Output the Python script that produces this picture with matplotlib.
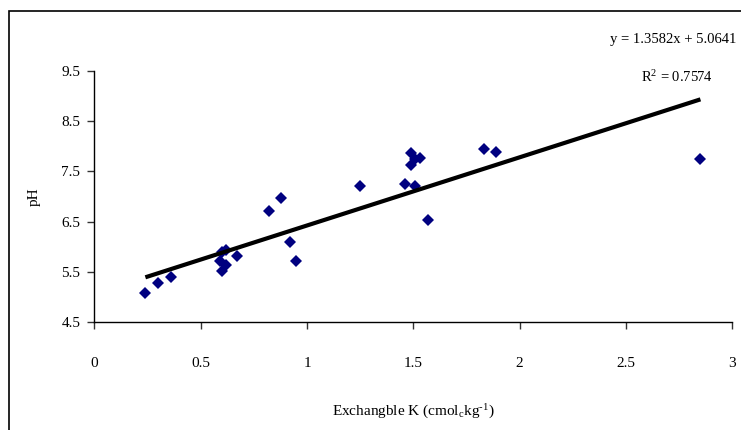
import matplotlib
matplotlib.use('Agg')
import matplotlib.pyplot as plt
import matplotlib.patches as patches
import numpy as np

plt.rcParams['font.family'] = 'Liberation Serif'
plt.rcParams['mathtext.fontset'] = 'custom'
plt.rcParams['mathtext.rm'] = 'Liberation Serif'
plt.rcParams['mathtext.it'] = 'Liberation Serif'

# exchangeable K vs pH
exch_k = [0.24, 0.30, 0.36, 0.60, 0.62, 0.59, 0.60, 0.62, 0.67, 0.82, 0.88, 0.92,
          0.95, 1.25, 1.46, 1.51, 1.57, 1.49, 1.51, 1.53, 1.49, 1.83, 1.89, 2.85]
ph = [5.08, 5.27, 5.40, 5.52, 5.64, 5.72, 5.90, 5.93, 5.81, 6.72, 6.96, 6.10,
      5.71, 7.20, 7.24, 7.20, 6.53, 7.87, 7.74, 7.76, 7.63, 7.94, 7.89, 7.75]

SLOPE = 1.3582
INTERCEPT = 5.0641
R2 = 0.7574

x_ticks = [0, 0.5, 1, 1.5, 2, 2.5, 3]
x_tick_labels = ['0', '0.5', '1', '1.5', '2', '2.5', '3']
y_ticks = [4.5, 5.5, 6.5, 7.5, 8.5, 9.5]

fig = plt.figure(figsize=(7.41, 4.30), dpi=100)
ax = fig.add_axes([0.1273, 0.2512, 0.861, 0.5837])

ax.plot(exch_k, ph, linestyle='none', marker='D', markersize=6.5,
        color='#000080', markeredgewidth=0)

x_fit = np.array([min(exch_k), max(exch_k)])
ax.plot(x_fit, SLOPE * x_fit + INTERCEPT, color='black', linewidth=3,
        solid_capstyle='butt')

ax.set_xlim(0, 3)
ax.set_ylim(4.5, 9.5)
ax.set_xticks(x_ticks)
ax.set_xticklabels(x_tick_labels)
ax.set_yticks(y_ticks)
ax.set_yticklabels([f'{v:.1f}' for v in y_ticks])

for side in ['top', 'right']:
    ax.spines[side].set_visible(False)
for side in ['left', 'bottom']:
    ax.spines[side].set_linewidth(1.0)

ax.tick_params(axis='both', direction='out', length=5, width=1,
               colors='#333333', labelcolor='black', labelsize=11)
ax.tick_params(axis='x', pad=20)
ax.tick_params(axis='y', pad=5)

ax.set_ylabel('pH', fontsize=11, labelpad=15)
ax.set_xlabel('Exchangble K (cmol$_{\\rm c}$kg$^{\\rm \u20101}$)', fontsize=11, labelpad=24)

fig.text(610 / 741, 1 - 40 / 430, f'y = {SLOPE:.4f}x + {INTERCEPT:.4f}',
         fontsize=10.5, ha='left', va='center')
fig.text(641 / 741, 1 - 77 / 430, f'R$^{{\\rm 2}}$ = {R2:.4f}',
         fontsize=10.5, ha='left', va='center')

# outer chart border (right and bottom edges run off the image)
frame = patches.Rectangle((9 / 741, -0.05), 1.1, 1 - 11 / 430 + 0.05,
                          transform=fig.transFigure, fill=False,
                          edgecolor='black', linewidth=1.2, clip_on=False)
fig.patches.append(frame)

fig.savefig('out.png', dpi=100)
